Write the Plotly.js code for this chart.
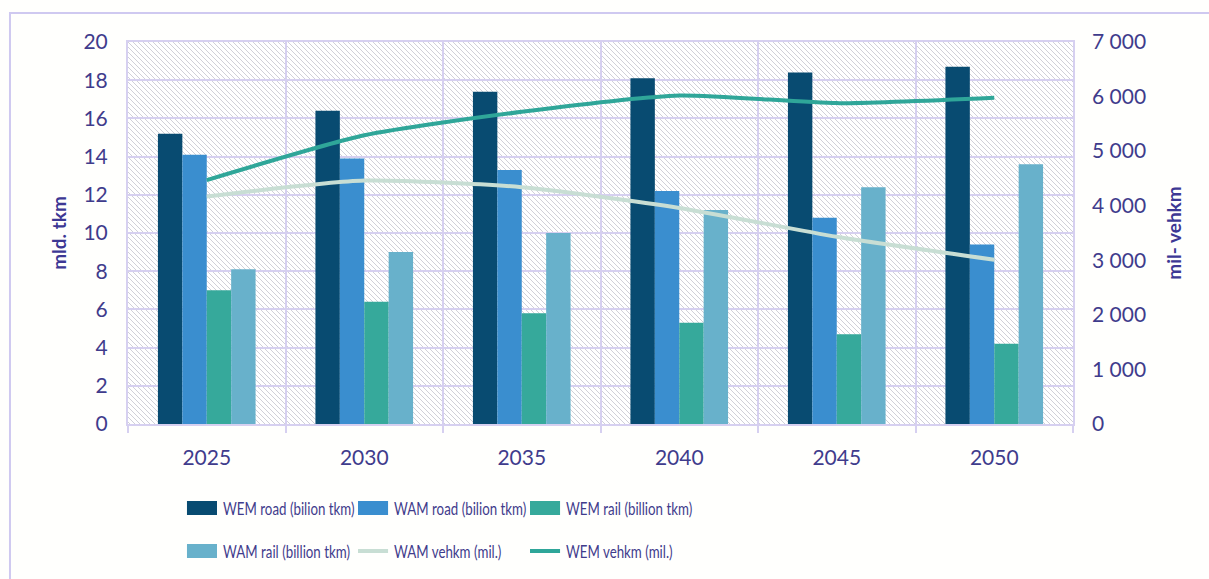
<!DOCTYPE html>
<html>
<head>
<meta charset="utf-8">
<script src="https://cdn.plot.ly/plotly-3.0.1.min.js"></script>
<style>html,body{margin:0;padding:0;background:#fffffd;}#chart{width:1209px;height:579px;}</style>
</head>
<body>
<div id="chart"></div>
<script>
// ---- data ----
const years = ["2025", "2030", "2035", "2040", "2045", "2050"];
const wemRoad = [15.2, 16.4, 17.4, 18.1, 18.4, 18.7];
const wamRoad = [14.1, 13.9, 13.3, 12.2, 10.8, 9.4];
const wemRail = [7.0, 6.4, 5.8, 5.3, 4.7, 4.2];
const wamRail = [8.1, 9.0, 10.0, 11.2, 12.4, 13.6];
const wamVehkm = [4170, 4460, 4340, 3960, 3430, 3010];
const wemVehkm = [4470, 5290, 5720, 6020, 5880, 5980];
const leftTicks = [0, 2, 4, 6, 8, 10, 12, 14, 16, 18, 20];
const rightTicks = [0, 1000, 2000, 3000, 4000, 5000, 6000, 7000];
const rightTickText = ["0", "1 000", "2 000", "3 000", "4 000", "5 000", "6 000", "7 000"];
const seriesNames = ["WEM road (bilion tkm)", "WAM road (bilion tkm)", "WEM rail (billion tkm)",
                     "WAM rail (billion tkm)", "WAM vehkm (mil.)", "WEM vehkm (mil.)"];

const colors = ["#084b71", "#3a8ecf", "#36a99b", "#68b1cb", "#c8ded4", "#2fa699"];

const txt = "#3f3c8c";
const grid = "#d6d0f0";
const font = "Lato, 'Open Sans', sans-serif";

const hatch = 'data:image/svg+xml;utf8,' + encodeURIComponent(
  '<svg xmlns="http://www.w3.org/2000/svg" width="945" height="382">' +
  '<defs><pattern id="p" patternUnits="userSpaceOnUse" width="5" height="5">' +
  '<rect width="5" height="5" fill="#ffffff"/>' +
  '<path d="M-1,-1 L6,6 M-1,4 L1,6 M4,-1 L6,1" stroke="#d0d0d8" stroke-width="1"/></pattern></defs>' +
  '<rect width="945" height="382" fill="url(#p)"/></svg>');

const traces = [
  {type: "bar", name: seriesNames[0], x: years, y: wemRoad, marker: {color: colors[0]}},
  {type: "bar", name: seriesNames[1], x: years, y: wamRoad, marker: {color: colors[1]}},
  {type: "bar", name: seriesNames[2], x: years, y: wemRail, marker: {color: colors[2]}},
  {type: "bar", name: seriesNames[3], x: years, y: wamRail, marker: {color: colors[3]}},
  {type: "scatter", mode: "lines", name: seriesNames[4], x: years, y: wamVehkm, yaxis: "y2",
   line: {color: colors[4], width: 4, shape: "spline", smoothing: 0.6}},
  {type: "scatter", mode: "lines", name: seriesNames[5], x: years, y: wemVehkm, yaxis: "y2",
   line: {color: colors[5], width: 4, shape: "spline", smoothing: 0.6}}
];

// ---- legend layout (paper coordinates), two rows of three entries, drawn as shapes + text ----
const legCols = [0.0624, 0.2434, 0.4254];   // swatch left edges
const legRows = [-0.2199, -0.3325];          // row centres
const swW = 0.0318, swH = 0.0183, txtGap = 0.0042;
const legendShapes = [], legendTexts = [];
seriesNames.forEach((name, i) => {
  const cx = legCols[i % 3], cy = legRows[Math.floor(i / 3)];
  if (i < 4) {
    legendShapes.push({type: "rect", xref: "paper", yref: "paper", x0: cx, x1: cx + swW,
      y0: cy - swH, y1: cy + swH, fillcolor: colors[i], line: {width: 0}});
  } else {
    legendShapes.push({type: "line", xref: "paper", yref: "paper", x0: cx, x1: cx + swW,
      y0: cy, y1: cy, line: {color: colors[i], width: 4}});
  }
  legendTexts.push({xref: "paper", yref: "paper", x: cx + swW + txtGap, y: cy, xanchor: "left", yanchor: "middle",
    text: name, showarrow: false, font: {family: font, size: 18, color: txt}});
});

const layout = {
  width: 1209, height: 579,
  margin: {l: 128, r: 136, t: 42, b: 155},
  paper_bgcolor: "#fffffd",
  plot_bgcolor: "rgba(0,0,0,0)",
  font: {family: font, color: txt, size: 16},
  barmode: "group", bargap: 0.38, bargroupgap: 0,
  showlegend: false,
  xaxis: {
    type: "category", tickson: "boundaries", showgrid: true, gridcolor: grid, gridwidth: 2,
    ticks: "outside", ticklen: 7, tickcolor: grid, tickwidth: 2,
    showline: true, linecolor: grid, linewidth: 2, mirror: true,
    tickfont: {size: 21, color: txt}, zeroline: false, ticklabelstandoff: 14
  },
  yaxis: {
    range: [0, 20], tickvals: leftTicks, showgrid: true, gridcolor: grid, gridwidth: 2,
    showline: true, linecolor: grid, linewidth: 2, mirror: true, zeroline: false,
    ticks: "", tickfont: {size: 21, color: txt}, ticklabelstandoff: 14,
    title: {text: "<b>mld. tkm</b>", font: {size: 19, color: "#3d3894"}, standoff: 12}
  },
  yaxis2: {
    overlaying: "y", side: "right", range: [0, 7000], tickvals: rightTicks, ticktext: rightTickText,
    showgrid: false, zeroline: false, showline: false, ticks: "",
    tickfont: {size: 21, color: txt}, ticklabelstandoff: 18,
    title: {text: "<b>mil- vehkm</b>", font: {size: 19, color: "#3d3894"}, standoff: 22}
  },
  images: [{source: hatch, xref: "paper", yref: "paper", x: 0, y: 1, sizex: 1, sizey: 1,
            sizing: "stretch", xanchor: "left", yanchor: "top", layer: "below"}],
  shapes: [{type: "rect", xref: "paper", yref: "paper", x0: -0.1249, x1: 1.25, y0: -0.5, y1: 1.0759,
            line: {color: "#cfc9f0", width: 2}, fillcolor: "rgba(0,0,0,0)", layer: "below"}]
            .concat(legendShapes),
  annotations: legendTexts
};

const gd = document.getElementById("chart");

function condenseLegendText() {
  // the original legend uses a condensed face: squeeze horizontally about the text's left edge
  gd.querySelectorAll("g.annotation text.annotation-text").forEach(t => {
    const b = t.getBBox();
    const s = 0.74, x0 = b.x;
    t.setAttribute("transform", "translate(" + x0 + ",0) scale(" + s + ",1) translate(" + (-x0) + ",0)");
  });
}

Plotly.newPlot(gd, traces, layout, {displayModeBar: false, staticPlot: true}).then(() => {
  condenseLegendText();
  requestAnimationFrame(condenseLegendText);
  setTimeout(condenseLegendText, 100);
});
condenseLegendText();
</script>
</body>
</html>
